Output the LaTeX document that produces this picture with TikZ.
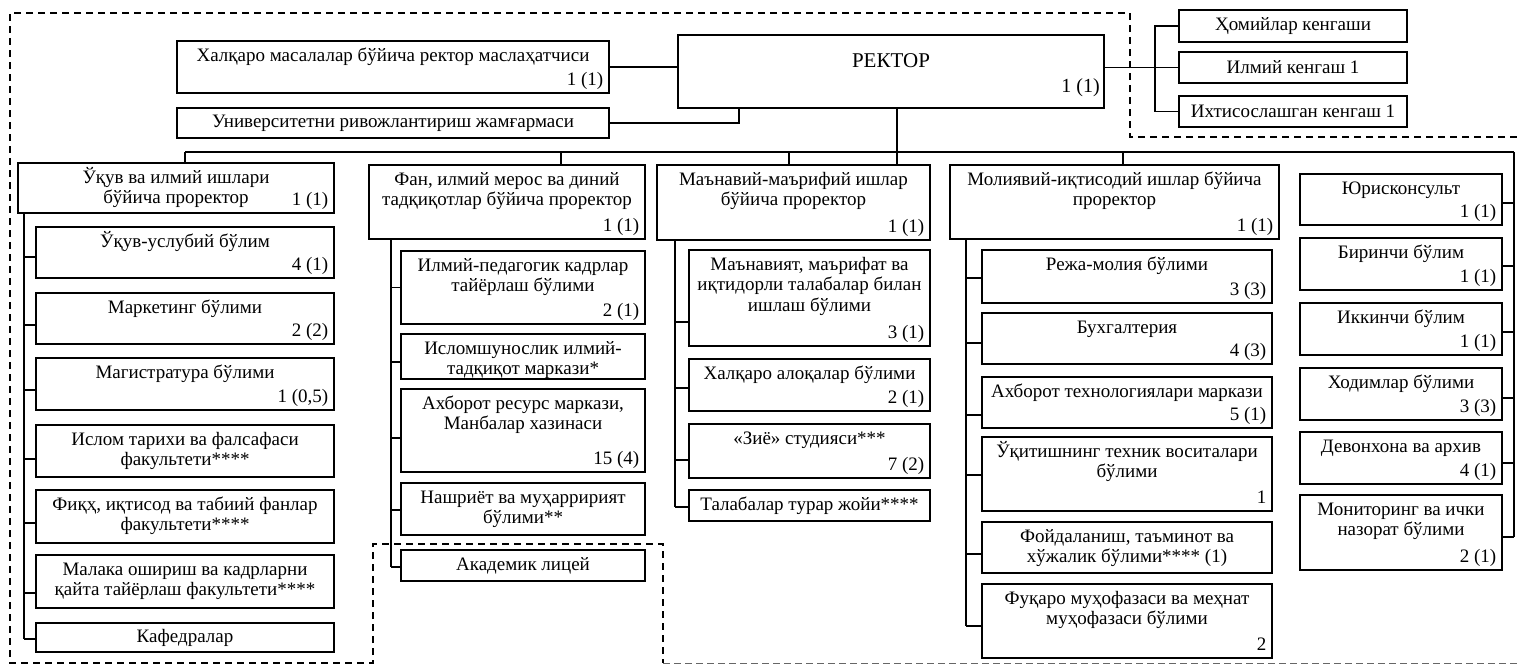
\documentclass[tikz,border=0pt]{standalone}
\usepackage{fontspec}
\setmainfont{Liberation Serif}
\usetikzlibrary{calc}
% box with title at top and a count at the bottom right
\newcommand\obox[7]{%
  \node[orgbox, minimum width={(#4-#2)*1pt}, minimum height={(#5-#3)*1pt}, anchor=north west] (#1) at (#2,#3) {};
  \node[ttl] (#1t) at ([yshift=-3.5pt]#1.north) {\rule{0pt}{16.5pt}#6};
  \node[cnt] (#1c) at ([xshift=-5.5pt,yshift=8pt]#1.south east) {#7};
}
% one-line box with centred text
\newcommand\sbx[6]{%
  \node[orgbox, minimum width={(#4-#2)*1pt}, minimum height={(#5-#3)*1pt}, anchor=north west] (#1) at (#2,#3) {#6};
}
% branch from a trunk to a box side
\newcommand\conn[4]{%
  \coordinate (#2p) at ([yshift=#3pt]#2.#4);
  \draw[ln] (#2p) -- (#1 |- #2p);
}
\begin{document}
\begin{tikzpicture}[x=1pt,y=-1pt,
  every node/.style={font=\fontsize{19}{20.7}\selectfont},
  orgbox/.style={draw=black, line width=1.9pt, inner sep=0pt, outer sep=0pt, fill=white},
  ttl/.style={anchor=north, inner sep=0pt, align=center},
  cnt/.style={anchor=base east, inner sep=0pt},
  ln/.style={line width=1.7pt, black},
  dsh/.style={line width=2.3pt, dash pattern=on 7pt off 5pt},
  dshthin/.style={line width=1pt, gray!80!black, dash pattern=on 7pt off 4pt}]
\useasboundingbox (0,0) rectangle (1517,665);

% outer dashed frame
\draw[dsh] (1517,137) -- (1130,137) -- (1130,13) -- (10,13) -- (10,663) -- (373,663) -- (373,544) -- (663,544) -- (663,663);
\draw[dshthin] (663,663) -- (1517,663);

% top level
\node[orgbox, minimum width=426pt, minimum height=73pt, anchor=north west] (rek) at (678,35) {};
\node[anchor=base, inner sep=0pt, font=\fontsize{21}{24}\selectfont] (rekt) at ([yshift=-32pt]rek.north) {РЕКТОР};
\node[anchor=base east, inner sep=0pt, font=\fontsize{20}{24}\selectfont] (rekc) at ([xshift=-4pt,yshift=16pt]rek.south east) {1 (1)};

\obox{hal}{177}{41}{609}{93}{Халқаро масалалар бўйича ректор маслаҳатчиси}{1 (1)}
\sbx{univ}{177}{108}{609}{138}{Университетни ривожлантириш жамғармаси}
\sbx{hom}{1179}{10}{1407}{42}{Ҳомийлар кенгаши}
\sbx{ilm}{1179}{52}{1407}{83}{Илмий кенгаш 1}
\sbx{ixt}{1179}{96}{1407}{127}{Ихтисослашган кенгаш 1}

% column 1
\obox{uq}{18}{163}{334}{213}{Ўқув ва илмий ишлари\\бўйича проректор}{1 (1)}
\obox{a1}{36}{227}{334}{278}{Ўқув-услубий бўлим}{4 (1)}
\obox{a2}{36}{293}{334}{344}{Маркетинг бўлими}{2 (2)}
\obox{a3}{36}{358}{334}{410}{Магистратура бўлими}{1 (0,5)}
\obox{a4}{36}{425}{334}{477}{Ислом тарихи ва фалсафаси\\факультети****}{}
\obox{a5}{36}{490}{334}{543}{Фиқҳ, иқтисод ва табиий фанлар\\факультети****}{}
\obox{a6}{36}{555}{334}{608}{Малака ошириш ва кадрларни\\қайта тайёрлаш факультети****}{}
\sbx{a7}{36}{623}{334}{652}{Кафедралар}

% column 2
\obox{fan}{369}{165}{645}{239}{Фан, илмий мерос ва диний\\тадқиқотлар бўйича проректор}{1 (1)}
\obox{b1}{401}{251}{645}{324}{Илмий-педагогик кадрлар\\тайёрлаш бўлими}{2 (1)}
\obox{b2}{401}{334}{645}{379}{Исломшунослик илмий-\\тадқиқот маркази*}{}
\obox{b3}{401}{389}{645}{472}{Ахборот ресурс маркази,\\Манбалар хазинаси}{15 (4)}
\obox{b4}{401}{483}{645}{535}{Нашриёт ва муҳарририят\\бўлими**}{}
\sbx{b5}{401}{550}{645}{581}{Академик лицей}

% column 3
\obox{man}{657}{165}{930}{240}{Маънавий-маърифий ишлар\\бўйича проректор}{1 (1)}
\obox{c1}{689}{250}{930}{346}{Маънавият, маърифат ва\\иқтидорли талабалар билан\\ишлаш бўлими}{3 (1)}
\obox{c2}{689}{359}{930}{411}{Халқаро алоқалар бўлими}{2 (1)}
\obox{c3}{689}{424}{930}{478}{«Зиё» студияси***}{7 (2)}
\sbx{c4}{689}{490}{930}{521}{Талабалар турар жойи****}

% column 4
\obox{mol}{950}{165}{1279}{239}{Молиявий-иқтисодий ишлар бўйича\\проректор}{1 (1)}
\obox{d1}{982}{250}{1272}{303}{Режа-молия бўлими}{3 (3)}
\obox{d2}{982}{313}{1272}{364}{Бухгалтерия}{4 (3)}
\obox{d3}{982}{377}{1272}{428}{Ахборот технологиялари маркази}{5 (1)}
\obox{d4}{982}{437}{1272}{511}{Ўқитишнинг техник воситалари\\бўлими}{1}
\obox{d5}{982}{522}{1272}{573}{Фойдаланиш, таъминот ва\\хўжалик бўлими**** (1)}{}
\obox{d6}{982}{584}{1272}{658}{Фуқаро муҳофазаси ва меҳнат\\муҳофазаси бўлими}{2}

% column 5
\obox{e1}{1300}{174}{1502}{225}{Юрисконсульт}{1 (1)}
\obox{e2}{1300}{238}{1502}{290}{Биринчи бўлим}{1 (1)}
\obox{e3}{1300}{303}{1502}{355}{Иккинчи бўлим}{1 (1)}
\obox{e4}{1300}{368}{1502}{420}{Ходимлар бўлими}{3 (3)}
\obox{e5}{1300}{432}{1502}{484}{Девонхона ва архив}{4 (1)}
\obox{e6}{1300}{495}{1502}{570}{Мониторинг ва ички\\назорат бўлими}{2 (1)}

% top connectors
\draw[ln] (hal.east) -- (hal.east -| rek.west);
\coordinate (ur) at ([xshift=-152pt]rek.south);
\draw[ln] (univ.east) -| (ur);
\draw[ln] (ilm.west) -- (ilm.west -| rek.east);
\coordinate (cb) at ([xshift=-24pt]ilm.west);
\draw[ln] (hom.west) -| (cb |- ixt.west) -- (ixt.west);

% main bus
\coordinate (rs) at ([xshift=6pt]rek.south);
\draw[ln] (rs) -- (rs |- man.north);
\coordinate (busl) at ([xshift=9pt]uq.north |- 0,152);
\coordinate (busr) at (1514,152);
\draw[ln] (busl) -- (busr);
\draw[ln] (busl) -- (busl |- uq.north);
\coordinate (fd) at ([xshift=54pt]fan.north);
\draw[ln] (fd) -- (fd |- busl);
\coordinate (md) at ([xshift=-4.5pt]man.north);
\draw[ln] (md) -- (md |- busl);
\coordinate (od) at ([xshift=8.5pt]mol.north);
\draw[ln] (od) -- (od |- busl);

% column 1 trunk
\coordinate (t1) at ([xshift=6pt]uq.south west);
\conn{t1}{a1}{-4.5}{west}
\conn{t1}{a2}{-6.5}{west}
\conn{t1}{a3}{-6}{west}
\conn{t1}{a4}{-8}{west}
\conn{t1}{a5}{-6.5}{west}
\conn{t1}{a6}{-11.5}{west}
\conn{t1}{a7}{-1.5}{west}
\draw[ln] (t1) -- (t1 |- a7p);

% column 2 trunk
\coordinate (t2) at ([xshift=22pt]fan.south west);
\conn{t2}{b1}{0}{west}
\conn{t2}{b2}{-5.5}{west}
\conn{t2}{b3}{-7.5}{west}
\conn{t2}{b4}{-1}{west}
\conn{t2}{b5}{-1.5}{west}
\draw[ln] (t2) -- (t2 |- b5p);

% column 3 trunk
\coordinate (t3) at ([xshift=18pt]man.south west);
\conn{t3}{c1}{-24}{west}
\conn{t3}{c2}{-3}{west}
\conn{t3}{c3}{-9}{west}
\conn{t3}{c4}{-1.5}{west}
\draw[ln] (t3) -- (t3 |- c4p);

% column 4 trunk
\coordinate (t4) at ([xshift=16pt]mol.south west);
\conn{t4}{d1}{-1.5}{west}
\conn{t4}{d2}{-4.5}{west}
\conn{t4}{d3}{-12.5}{west}
\conn{t4}{d4}{-1}{west}
\conn{t4}{d5}{-6.5}{west}
\conn{t4}{d6}{-5}{west}
\draw[ln] (t4) -- (t4 |- d6p);

% column 5 trunk
\conn{busr}{e1}{-3.5}{east}
\conn{busr}{e2}{-2}{east}
\conn{busr}{e3}{-3}{east}
\conn{busr}{e4}{-4}{east}
\conn{busr}{e5}{-5}{east}
\conn{busr}{e6}{-4.5}{east}
\draw[ln] (busr) -- (busr |- e6p);
\end{tikzpicture}
\end{document}
